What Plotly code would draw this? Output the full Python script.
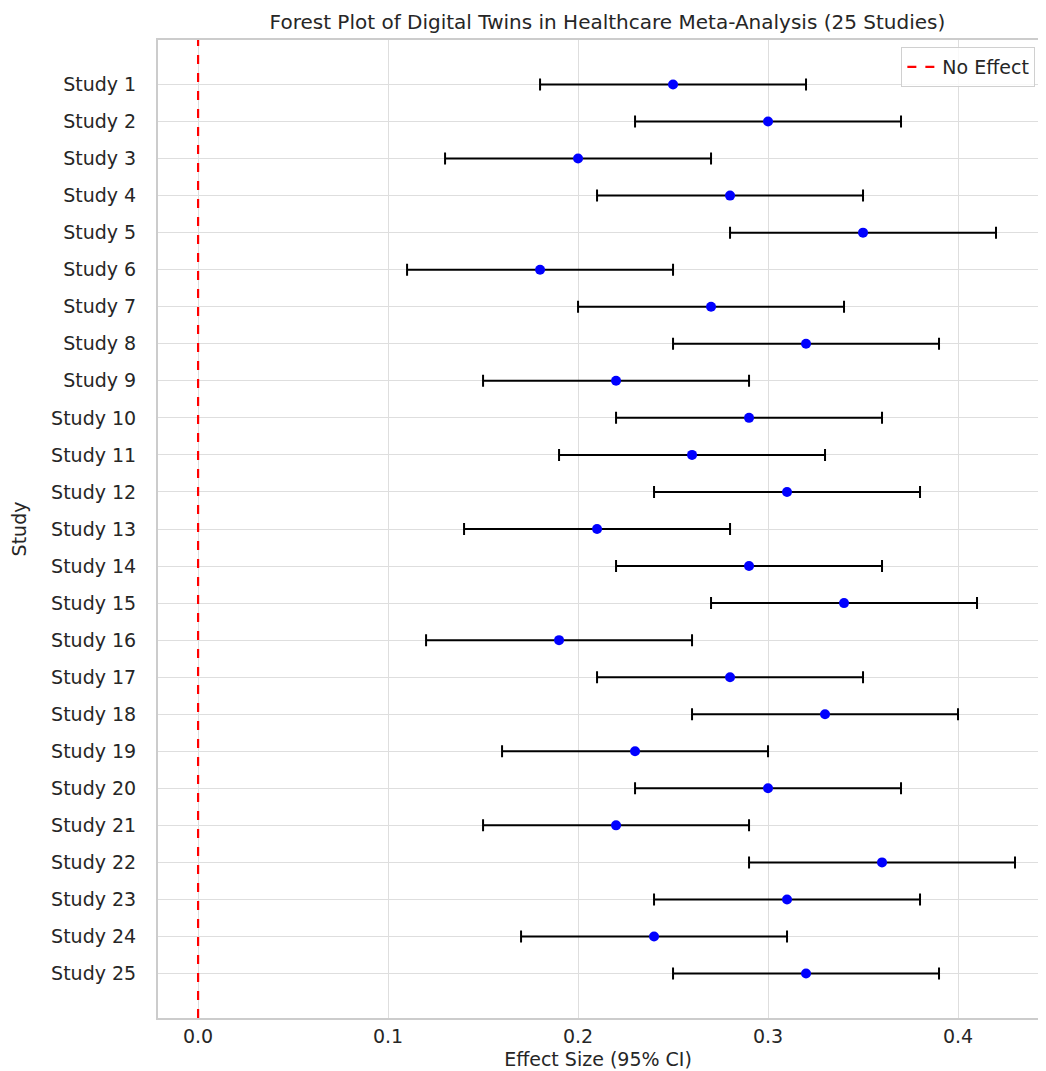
import plotly.graph_objects as go

studies = [f"Study {i}" for i in range(1, 26)]
effects = [0.25, 0.30, 0.20, 0.28, 0.35, 0.18, 0.27, 0.32, 0.22, 0.29,
           0.26, 0.31, 0.21, 0.29, 0.34, 0.19, 0.28, 0.33, 0.23, 0.30,
           0.22, 0.36, 0.31, 0.24, 0.32]
lower = [0.18, 0.23, 0.13, 0.21, 0.28, 0.11, 0.20, 0.25, 0.15, 0.22,
         0.19, 0.24, 0.14, 0.22, 0.27, 0.12, 0.21, 0.26, 0.16, 0.23,
         0.15, 0.29, 0.24, 0.17, 0.25]
upper = [0.32, 0.37, 0.27, 0.35, 0.42, 0.25, 0.34, 0.39, 0.29, 0.36,
         0.33, 0.38, 0.28, 0.36, 0.41, 0.26, 0.35, 0.40, 0.30, 0.37,
         0.29, 0.43, 0.38, 0.31, 0.39]
x_ticks = [0.0, 0.1, 0.2, 0.3, 0.4]

TXT = "#262626"
GRID = "#dedede"
FONT = "DejaVu Sans"

fig = go.Figure()
fig.add_trace(go.Scatter(
    x=effects, y=studies, mode="markers",
    marker=dict(color="blue", size=10),
    error_x=dict(type="data", symmetric=False,
                 array=[u - e for u, e in zip(upper, effects)],
                 arrayminus=[e - l for e, l in zip(effects, lower)],
                 color="black", thickness=2, width=6),
    showlegend=False,
))
fig.add_vline(x=0, line=dict(color="red", dash="dash", width=2.2))
fig.add_trace(go.Scatter(x=[None], y=[None], mode="lines", name="No Effect",
                         line=dict(color="red", dash="dash", width=2.2)))

fig.update_layout(
    width=1030, height=1062,
    paper_bgcolor="white", plot_bgcolor="white",
    margin=dict(l=150, r=0, t=32, b=52),
    font=dict(family=FONT, color=TXT, size=19),
    title=dict(text="Forest Plot of Digital Twins in Healthcare Meta-Analysis (25 Studies)",
               x=0.582, xanchor="center", y=1 - 14 / 1062, yanchor="middle",
               font=dict(size=20, color=TXT)),
    legend=dict(x=0.997, xanchor="right", y=1 - 7 / 978, yanchor="top",
                bgcolor="rgba(255,255,255,0.8)", bordercolor="#d0d0d0", borderwidth=1,
                font=dict(size=19, color=TXT)),
    xaxis=dict(range=[-0.0211, 0.4421], tickvals=x_ticks,
               ticktext=[f"{v:.1f}" for v in x_ticks],
               showgrid=True, gridcolor=GRID, gridwidth=1.3, zeroline=False,
               showline=True, linecolor="#cccccc", linewidth=2, mirror=True,
               ticks="", ticklen=0, ticklabelstandoff=0, automargin=False,
               title=dict(text="Effect Size (95% CI)", standoff=12, font=dict(size=19))),
    yaxis=dict(range=[24 + 1.2, -1.2], type="category",
               showgrid=True, gridcolor=GRID, gridwidth=1.3, zeroline=False,
               showline=True, linecolor="#cccccc", linewidth=2,
               ticks="", ticklabelstandoff=16, automargin=False,
               title=dict(text="Study", standoff=20, font=dict(size=19))),
)
fig.write_html("out.html")
